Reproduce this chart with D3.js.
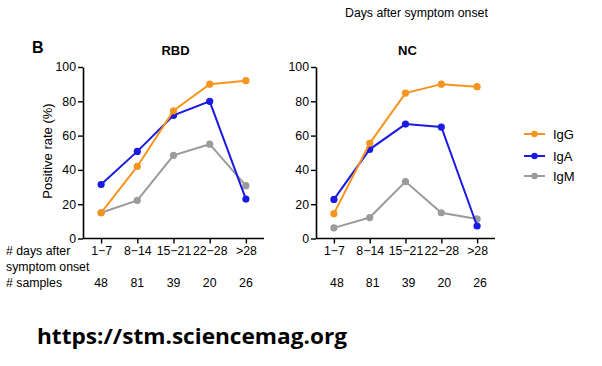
<!DOCTYPE html>
<html>
<head>
<meta charset="utf-8">
<script src="https://cdn.jsdelivr.net/npm/d3@7"></script>
<style>
  html, body { margin: 0; padding: 0; background: #fff; }
  svg { display: block; font-family: "Liberation Sans", Arial, Helvetica, sans-serif; }
</style>
</head>
<body>
<svg id="chart" width="602" height="366"></svg>
<script>
const categories = ["1\u22127", "8\u221214", "15\u221221", "22\u221228", ">28"];
const samples = [48, 81, 39, 20, 26];
const yTicks = [0, 20, 40, 60, 80, 100];
const seriesNames = ["IgG", "IgA", "IgM"];
const seriesColors = ["#F7941D", "#1A1AE0", "#9B9B9B"];

const rbdIgG = [15, 42, 74.5, 90, 92];
const rbdIgA = [31.5, 50.8, 71.8, 80, 23];
const rbdIgM = [15, 22.2, 48.5, 55, 30.8];

const ncIgG = [14.5, 55.5, 84.8, 90, 88.5];
const ncIgA = [22.8, 52, 66.7, 65, 7.3];
const ncIgM = [6.2, 12.2, 33.2, 15, 11.4];

const panels = [
  { title: "RBD", data: [rbdIgG, rbdIgA, rbdIgM], x0: 83, x1: 264 },
  { title: "NC", data: [ncIgG, ncIgA, ncIgM], x0: 316, x1: 495 }
];

const svg = d3.select("#chart");
const yTop = 67, yBot = 238.5;

panels.forEach((p, pi) => {
  const x = d3.scalePoint().domain(categories).range([p.x0, p.x1]).padding(0.5);
  const y = d3.scaleLinear().domain([0, 100]).range([yBot, yTop]);
  const g = svg.append("g");

  const ya = g.append("g").attr("transform", `translate(${p.x0},0)`)
    .call(d3.axisLeft(y).tickValues(yTicks).tickSize(5).tickSizeOuter(0).tickPadding(2));
  const xa = g.append("g").attr("transform", `translate(0,${yBot})`)
    .call(d3.axisBottom(x).tickSize(5).tickSizeOuter(0).tickPadding(3));
  [ya, xa].forEach(a => {
    a.select(".domain").attr("stroke", "#000").attr("stroke-width", 1.6);
    a.selectAll(".tick line").attr("stroke", "#000").attr("stroke-width", 1.4);
    a.selectAll(".tick text").attr("fill", "#000").style("font-size", "12.3px")
      .style("font-family", "'Liberation Sans', Arial, sans-serif");
  });
  xa.select(".domain").attr("d", `M${p.x0},0H${p.x1}`);

  g.append("text").attr("x", (p.x0 + p.x1) / 2 + 2).attr("y", 55)
    .attr("text-anchor", "middle").style("font-size", "13px").style("font-weight", "bold")
    .text(p.title);

  const line = d3.line().x((d, i) => x(categories[i])).y(d => y(d));
  [2, 1, 0].forEach(si => {
    const vals = p.data[si];
    g.append("path").datum(vals).attr("d", line)
      .attr("fill", "none").attr("stroke", seriesColors[si]).attr("stroke-width", 2);
    g.selectAll(null).data(vals).enter().append("circle")
      .attr("cx", (d, i) => x(categories[i])).attr("cy", d => y(d)).attr("r", 3.6)
      .attr("fill", seriesColors[si]);
  });

  g.selectAll(null).data(samples).enter().append("text")
    .attr("x", (d, i) => x(categories[i]) + (pi === 1 ? 3 : 0))
    .attr("y", 287).attr("text-anchor", "middle").style("font-size", "12.3px")
    .text(d => d);
});

svg.append("text").attr("transform", "translate(52,151) rotate(-90)")
  .attr("text-anchor", "middle").style("font-size", "13px").text("Positive rate (%)");

svg.append("text").attr("x", 32).attr("y", 53).style("font-size", "16px")
  .style("font-weight", "bold").text("B");

svg.append("text").attr("x", 345).attr("y", 17).style("font-size", "12.3px")
  .text("Days after symptom onset");

svg.append("text").attr("x", 6).attr("y", 255).style("font-size", "12.3px").text("# days after");
svg.append("text").attr("x", 6).attr("y", 271).style("font-size", "12.3px").text("symptom onset");
svg.append("text").attr("x", 6).attr("y", 287).style("font-size", "12.3px").text("# samples");

const legY = [134, 156, 176];
seriesNames.forEach((n, i) => {
  svg.append("line").attr("x1", 524).attr("x2", 545).attr("y1", legY[i]).attr("y2", legY[i])
    .attr("stroke", seriesColors[i]).attr("stroke-width", 2);
  svg.append("circle").attr("cx", 534.5).attr("cy", legY[i]).attr("r", 3.2).attr("fill", seriesColors[i]);
  svg.append("text").attr("x", 553).attr("y", legY[i] + 4.5).style("font-size", "13px").text(n);
});

svg.append("text").attr("x", 37).attr("y", 344)
  .style("font-family", "'Open Sans', 'DejaVu Sans', sans-serif")
  .style("font-size", "21px").style("font-weight", "bold").attr("fill", "#000")
  .attr("textLength", 310).attr("lengthAdjust", "spacingAndGlyphs")
  .text("https://stm.sciencemag.org");
</script>
</body>
</html>
